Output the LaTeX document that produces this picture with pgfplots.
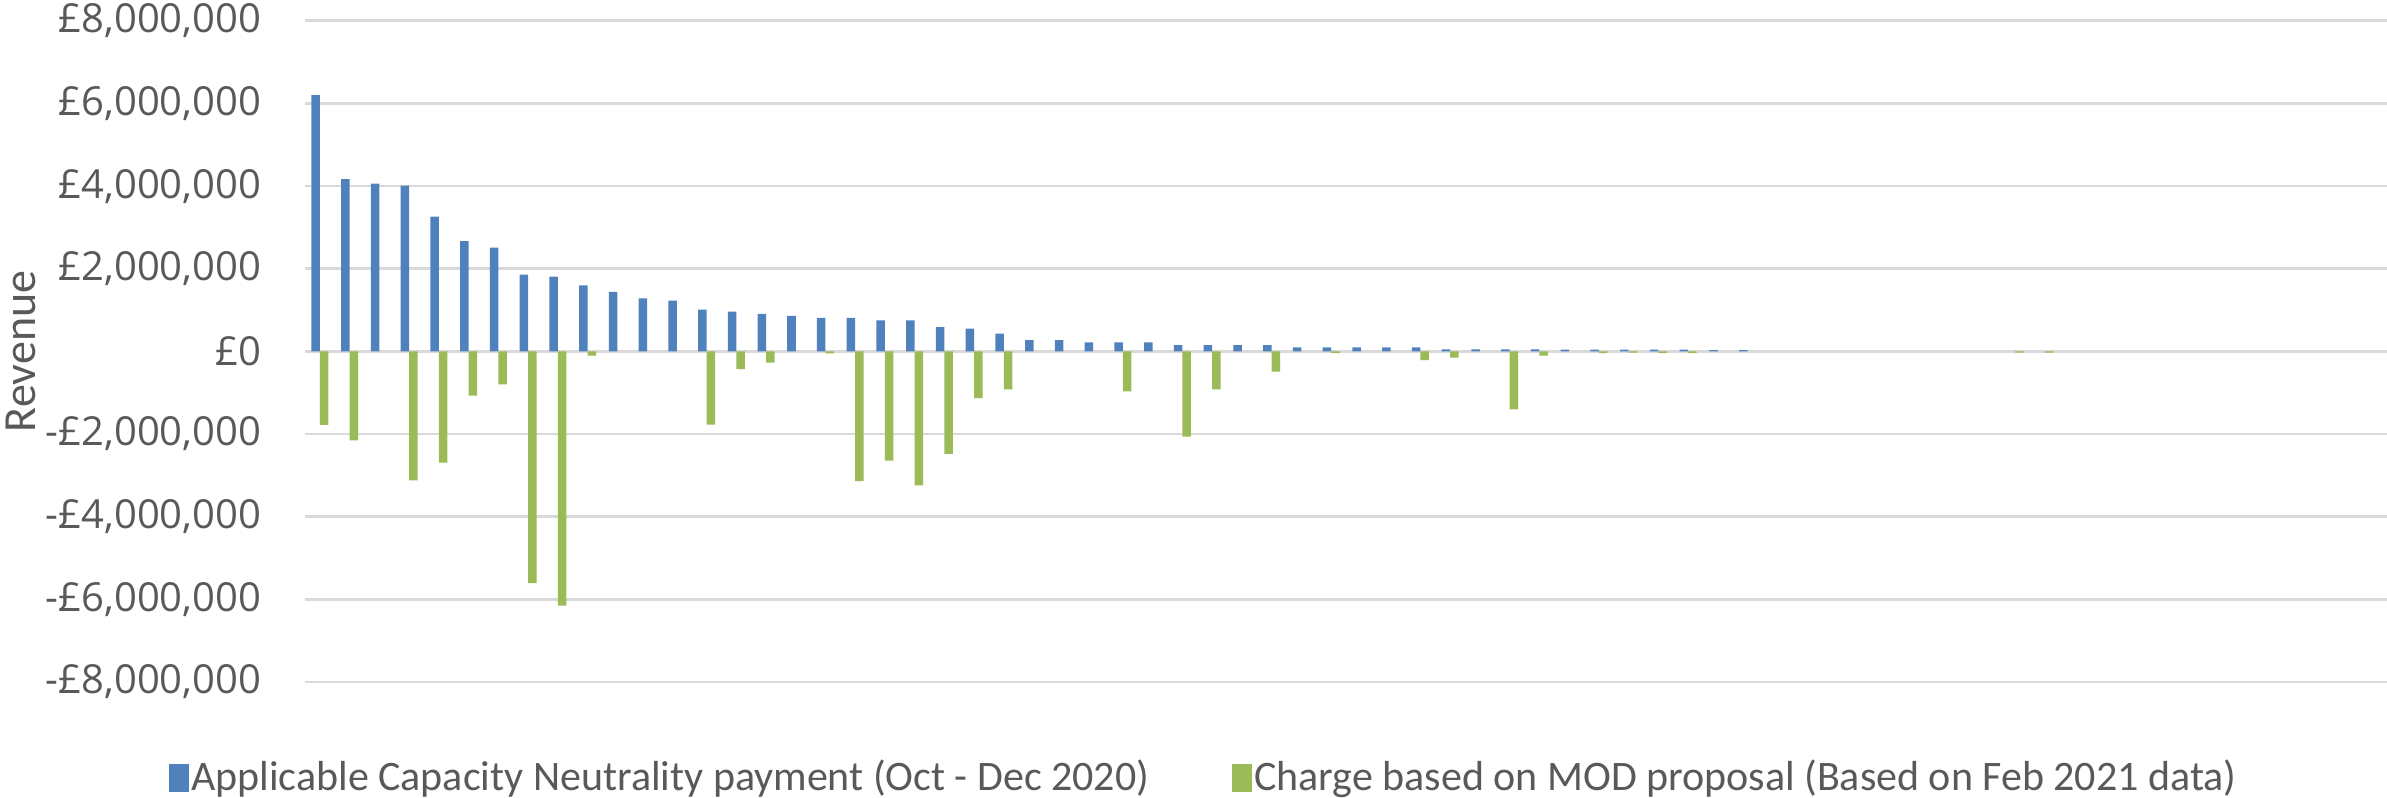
\documentclass[border=0pt]{standalone}
\usepackage{pgfplots}
\pgfplotsset{compat=1.18}
\usepackage{fontspec}
\setmainfont{Carlito}
\newfontfamily\tickfont{Open Sans}
\definecolor{cnblue}{HTML}{4F81BD}
\definecolor{cngreen}{HTML}{9BBB59}
\definecolor{gridgray}{HTML}{D9D9D9}
\definecolor{txtgray}{HTML}{595959}
\begin{document}
\begin{tikzpicture}
\path[use as bounding box] (-76.25pt,-28.75pt) rectangle (520.5pt,170.5pt);
\begin{axis}[
  at={(0pt,0pt)}, anchor=south west,
  scale only axis, width=520.5pt, height=165.3pt,
  xmin=-0.5, xmax=69.5, ymin=-8000000, ymax=8000000,
  ybar=0pt, bar width=0.286,
  axis line style={draw=none},
  major tick length=0pt,
  xtick=\empty,
  ytick={-8000000,-6000000,-4000000,-2000000,0,2000000,4000000,6000000,8000000},
  yticklabels={{-£8,000,000},{-£6,000,000},{-£4,000,000},{-£2,000,000},{£0},{£2,000,000},{£4,000,000},{£6,000,000},{£8,000,000}},
  yticklabel style={font=\tickfont\fontsize{10}{12}\selectfont, text=txtgray, inner sep=0pt, anchor=east, xshift=-10.75pt},
  scaled y ticks=false,
  ymajorgrids, grid style={draw=gridgray, line width=0.7pt},
  ylabel={Revenue},
  ylabel style={at={(axis description cs:0,0.5)}, anchor=center, rotate=0, yshift=71pt, font=\fontsize{11.5}{13}\selectfont, text=txtgray},
  legend style={at={(0,0)}, anchor=west, xshift=-34.25pt, yshift=-24pt, draw=none, fill=none,
    legend columns=2, font=\fontsize{10.5}{12}\selectfont, text=txtgray, inner sep=0pt,
    nodes={inner sep=0.6pt},
    /tikz/every even column/.append style={column sep=20pt}},
  legend cell align=left,
]
\addplot[fill=cnblue, draw=none, legend image code/.code={\fill[cnblue] (0pt,-3.5pt) rectangle (5pt,3.5pt);}] coordinates {
(0,6200000) (1,4170000) (2,4060000) (3,4010000) (4,3260000) (5,2670000) (6,2510000) (7,1860000)
(8,1810000) (9,1600000) (10,1440000) (11,1280000) (12,1230000) (13,1010000) (14,960000) (15,910000)
(16,860000) (17,810000) (18,810000) (19,750000) (20,750000) (21,590000) (22,550000) (23,430000)
(24,270000) (25,270000) (26,220000) (27,220000) (28,220000) (29,150000) (30,150000) (31,150000)
(32,150000) (33,100000) (34,100000) (35,100000) (36,100000) (37,100000) (38,50000) (39,50000)
(40,50000) (41,50000) (42,40000) (43,40000) (44,40000) (45,40000) (46,40000) (47,30000) (48,30000)
};
\addlegendentry{Applicable Capacity Neutrality payment (Oct - Dec 2020)}
\addplot[fill=cngreen, draw=none, legend image code/.code={\fill[cngreen] (0pt,-3.5pt) rectangle (5pt,3.5pt);}] coordinates {
(0,-1780000) (1,-2150000) (3,-3120000) (4,-2690000) (5,-1070000) (6,-800000) (7,-5610000)
(8,-6150000) (9,-100000) (13,-1770000) (14,-430000) (15,-270000) (17,-50000) (18,-3140000)
(19,-2640000) (20,-3240000) (21,-2480000) (22,-1130000) (23,-920000) (27,-970000) (29,-2060000)
(30,-920000) (32,-490000) (34,-40000) (37,-210000) (38,-150000) (40,-1400000) (41,-100000)
(43,-40000) (44,-30000) (45,-40000) (46,-40000) (57,-30000) (58,-30000)
};
\addlegendentry{Charge based on MOD proposal (Based on Feb 2021 data)}
\end{axis}
\end{tikzpicture}
\end{document}
